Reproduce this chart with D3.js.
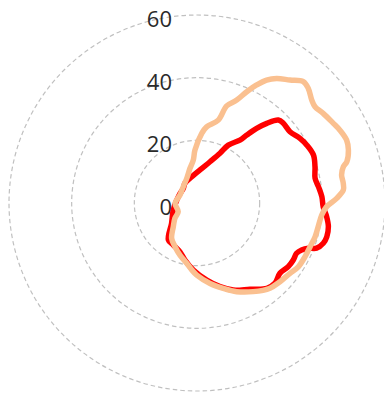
<!DOCTYPE html>
<html>
<head>
<meta charset="utf-8">
<script src="https://cdn.jsdelivr.net/npm/d3@7"></script>
<style>
  html, body { margin: 0; padding: 0; background: #fff; }
  svg { display: block; }
</style>
</head>
<body>
<svg id="chart" width="384" height="394"></svg>
<script>
// Radial tick labels
const radialTicks = [0, 20, 40, 60];

// Series 1 (red): angle in degrees clockwise from top, and value
const redAngles = [5.2, 17.5, 24.8, 28.4, 34.3, 36.2, 38.6, 41.2, 44.4, 47.3, 52.5, 57.9, 62.1, 67.6,
  72.9, 78.2, 82.3, 87.1, 91.7, 96.0, 100.2, 104.6, 107.7, 110.7, 112.1, 114.2, 116.8, 120.6,
  124.9, 130.3, 135.8, 140.7, 148.4, 157.4, 164.6, 172.8, 183.2, 191.9, 199.2, 209.4, 217.8,
  231.3, 253.5, 278.4, 299.7, 317.0, 328.6, 344.2];
const redValues = [10.6, 13.8, 17.5, 21.0, 24.3, 26.9, 30.5, 33.8, 37.1, 37.5, 37.4, 38.8, 39.6, 40.2,
  39.4, 38.5, 39.1, 39.9, 40.3, 41.6, 42.6, 42.8, 42.3, 40.8, 38.4, 36.6, 35.6, 35.7,
  35.5, 34.7, 35.7, 35.2, 32.3, 30.1, 27.7, 24.8, 21.4, 18.6, 16.5, 15.4, 14.9,
  10.4, 7.9, 6.5, 6.2, 6.4, 7.4, 8.2];

// Series 2 (peach)
const peachAngles = [3.9, 7.2, 14.4, 17.0, 21.1, 24.1, 26.8, 29.5, 32.6, 37.1, 41.2, 44.1, 48.1, 50.8,
  54.6, 59.7, 63.0, 67.2, 70.7, 74.6, 76.1, 79.0, 82.2, 84.9, 88.1, 91.6, 95.5, 101.1, 105.9,
  111.1, 116.4, 122.2, 127.1, 133.5, 139.4, 147.6, 155.9, 162.9, 170.8, 180.2, 184.5, 189.7,
  198.1, 206.7, 215.6, 225.0, 235.2, 245.1, 269.2, 295.2, 319.9, 337.4, 348.6, 355.1, 357.8];
const peachValues = [22.3, 24.5, 27.3, 32.4, 35.2, 38.9, 42.2, 45.1, 47.2, 49.2, 51.5, 51.0, 49.2, 48.6,
  49.4, 50.4, 51.2, 51.8, 51.2, 49.6, 48.1, 47.0, 47.1, 46.9, 44.6, 41.4, 40.0, 39.4, 39.2,
  38.7, 38.5, 38.2, 37.2, 36.5, 35.8, 33.5, 31.0, 28.5, 26.0, 23.0, 21.4, 19.5,
  17.5, 15.6, 13.9, 10.7, 8.6, 6.6, 7.0, 6.0, 6.8, 8.5, 11.3, 13.8, 16.9];

const svg = d3.select("#chart");
const cx = 197, cy = 203;
const r = d3.scaleLinear().domain([0, 60]).range([0, 188]);
const g = svg.append("g").attr("transform", `translate(${cx},${cy})`);

// dashed grid circles
g.selectAll("circle.grid")
  .data(radialTicks.filter(d => d > 0))
  .join("circle")
  .attr("class", "grid")
  .attr("r", d => r(d))
  .attr("fill", "none")
  .attr("stroke", "#c0c0c0")
  .attr("stroke-width", 1.2)
  .attr("stroke-dasharray", "4.5,3");

// tick labels
g.selectAll("text.tick")
  .data(radialTicks)
  .join("text")
  .attr("class", "tick")
  .attr("x", -25)
  .attr("y", d => -r(d) + 3)
  .attr("text-anchor", "end")
  .attr("dominant-baseline", "central")
  .attr("font-family", "'Open Sans', sans-serif")
  .attr("font-size", 22)
  .attr("fill", "#2a2a2a")
  .text(d => d);

const toRad = a => a * Math.PI / 180;
const line = d3.lineRadial()
  .angle(d => toRad(d[0]))
  .radius(d => r(d[1]))
  .curve(d3.curveCatmullRomClosed.alpha(0.5));

const series = [
  { angles: redAngles, values: redValues, color: "#ff0000" },
  { angles: peachAngles, values: peachValues, color: "#fac090" }
];

g.selectAll("path.series")
  .data(series)
  .join("path")
  .attr("class", "series")
  .attr("d", s => line(s.angles.map((a, i) => [a, s.values[i]])))
  .attr("fill", "none")
  .attr("stroke", s => s.color)
  .attr("stroke-width", 5.5)
  .attr("stroke-linejoin", "round");
</script>
</body>
</html>
